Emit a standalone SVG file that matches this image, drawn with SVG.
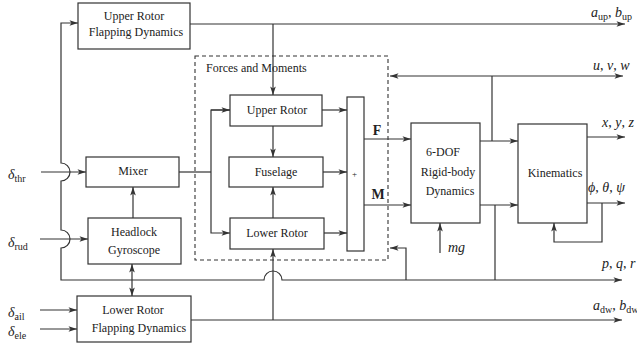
<svg xmlns="http://www.w3.org/2000/svg" width="637" height="347" viewBox="0 0 637 347">
<style>
.box{fill:#fff;stroke:#333;stroke-width:1.2}
.dash{fill:none;stroke:#333;stroke-width:1.1;stroke-dasharray:4,3}
.ln{fill:none;stroke:#333;stroke-width:1.2}
.a{marker-end:url(#ah)}
.aa{marker-start:url(#ah);marker-end:url(#ah)}
text{font-family:"Liberation Serif","Times New Roman",serif;fill:#222}
.t{font-size:12px;text-anchor:middle}
.m{font-size:14px;font-style:italic}
.s{font-size:10px;font-style:normal}
.r{font-style:normal}
.b{font-size:14px;font-weight:bold;text-anchor:middle}
</style>
<defs>
<marker id="ah" viewBox="-9 -4 10 8" refX="0" refY="0" markerWidth="10" markerHeight="8" markerUnits="userSpaceOnUse" orient="auto-start-reverse">
<path d="M0,0 L-8.5,-2.8 L-6.5,0 L-8.5,2.8 z" fill="#333"/>
</marker>
</defs>
<rect width="637" height="347" fill="#fff"/>
<g id="connectors">
<path class="ln a" d="M495,280 H282 A9,9 0 0 0 264,280 H61 V248 A9,9 0 0 0 61,230 V181 A9,9 0 0 0 61,163 V23 H78"/>
<path class="ln a" d="M495,280 H622"/>
<path class="ln a" d="M190,24 H625"/>
<path class="ln a" d="M273,24 V95"/>
<path class="ln a" d="M191,320 H622"/>
<path class="ln a" d="M273,320 V249"/>
<path class="ln a" d="M41,172 H86"/>
<path class="ln a" d="M40,239 H88"/>
<path class="ln a" d="M40,310 H77"/>
<path class="ln a" d="M40,329 H77"/>
<path class="ln a" d="M133,218 V187"/>
<path class="ln aa" d="M132,264 V296"/>
<path class="ln" d="M179,172 H211"/>
<path class="ln a" d="M230,110 H211 V233 H230"/>
<path class="ln a" d="M211,110 H230"/>
<path class="ln a" d="M273,126 V157"/>
<path class="ln a" d="M273,218 V187"/>
<path class="ln a" d="M322,110 H347"/>
<path class="ln a" d="M323,172 H347"/>
<path class="ln a" d="M324,233 H347"/>
<path class="ln a" d="M364,139 H411"/>
<path class="ln a" d="M364,205 H411"/>
<path class="ln a" d="M480,141 H518"/>
<path class="ln" d="M492,141 V76"/>
<path class="ln aa" d="M390,76 H623"/>
<path class="ln a" d="M480,205 H518"/>
<path class="ln" d="M495,205 V280"/>
<path class="ln a" d="M406,280 V248 H390"/>
<path class="ln a" d="M440,253 V223"/>
<path class="ln a" d="M587,137 H625"/>
<path class="ln a" d="M587,203 H625"/>
<path class="ln a" d="M602,203 V242 H554 V223"/>
</g>
<g id="forces-moments">
<rect class="dash" x="195" y="56" width="193" height="204"/>
<text x="206" y="72" style="font-size:12px">Forces and Moments</text>
</g>
<g id="upper-flap">
<rect class="box" x="78" y="3" width="112" height="46"/>
<text class="t" x="134" y="20">Upper Rotor</text>
<text class="t" x="136" y="36">Flapping Dynamics</text>
</g>
<g id="mixer">
<rect class="box" x="86" y="157" width="93" height="30"/>
<text class="t" x="133" y="175">Mixer</text>
</g>
<g id="headlock">
<rect class="box" x="88" y="218" width="93" height="46"/>
<text class="t" x="134" y="236">Headlock</text>
<text class="t" x="134" y="254">Gyroscope</text>
</g>
<g id="lower-flap">
<rect class="box" x="77" y="296" width="114" height="46"/>
<text class="t" x="133" y="314">Lower Rotor</text>
<text class="t" x="139" y="332">Flapping Dynamics</text>
</g>
<g id="upper-rotor">
<rect class="box" x="230" y="95" width="92" height="31"/>
<text class="t" x="277" y="114">Upper Rotor</text>
</g>
<g id="fuselage">
<rect class="box" x="229" y="157" width="94" height="30"/>
<text class="t" x="276" y="176">Fuselage</text>
</g>
<g id="lower-rotor">
<rect class="box" x="230" y="218" width="94" height="31"/>
<text class="t" x="277" y="237">Lower Rotor</text>
</g>
<g id="sum">
<rect class="box" x="347" y="97" width="17" height="154"/>
<text x="354.5" y="177" style="font-size:9px;text-anchor:middle">+</text>
</g>
<g id="rigid-body">
<rect class="box" x="411" y="123" width="69" height="100"/>
<text class="t" x="443" y="156">6-DOF</text>
<text class="t" x="448" y="176">Rigid-body</text>
<text class="t" x="450" y="195">Dynamics</text>
</g>
<g id="kinematics">
<rect class="box" x="518" y="124" width="69" height="99"/>
<text class="t" x="555" y="177">Kinematics</text>
</g>
<g id="labels">
<text class="b" x="377" y="135">F</text>
<text class="b" x="378" y="199">M</text>
<text class="m" x="8" y="179">δ<tspan class="s" dy="3">thr</tspan></text>
<text class="m" x="8" y="247">δ<tspan class="s" dy="3">rud</tspan></text>
<text class="m" x="8" y="317">δ<tspan class="s" dy="3">ail</tspan></text>
<text class="m" x="8" y="336">δ<tspan class="s" dy="3">ele</tspan></text>
<text class="m" x="591" y="17">a<tspan class="s" dy="3">up</tspan><tspan class="r" dy="-3">, </tspan>b<tspan class="s" dy="3">up</tspan></text>
<text class="m" x="593" y="70">u<tspan class="r">, </tspan>v<tspan class="r">, </tspan>w</text>
<text class="m" x="602" y="127">x<tspan class="r">, </tspan>y<tspan class="r">, </tspan>z</text>
<text class="m" x="588" y="192">ϕ<tspan class="r">, </tspan>θ<tspan class="r">, </tspan>ψ</text>
<text class="m" x="602" y="268">p<tspan class="r">, </tspan>q<tspan class="r">, </tspan>r</text>
<text class="m" x="593" y="310">a<tspan class="s" dy="3">dw</tspan><tspan class="r" dy="-3">, </tspan>b<tspan class="s" dy="3">dw</tspan></text>
<text class="m" x="448" y="252">mg</text>
</g>
</svg>
